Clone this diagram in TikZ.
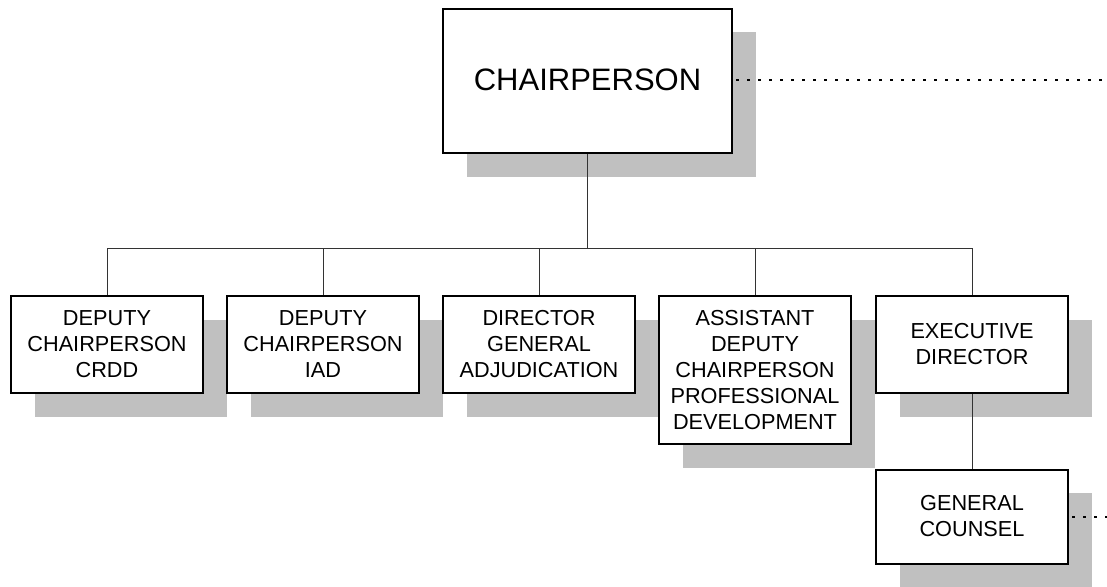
\documentclass[tikz,border=0pt]{standalone}
\usepackage{fontspec}
\setmainfont{Liberation Sans}
\usetikzlibrary{shadows}
\definecolor{shadowgray}{HTML}{C0C0C0}
\definecolor{linegray}{HTML}{333333}
\tikzset{
  orgbox/.style={draw=black, line width=2pt, fill=white, inner sep=0pt,
    minimum width=192pt, minimum height=97pt, align=center,
    font=\fontsize{21.7}{26}\selectfont,
    general shadow={fill=shadowgray, shadow xshift=23.5pt, shadow yshift=-23.5pt}},
  conn/.style={draw=linegray, line width=1pt},
  dotline/.style={draw=black, line width=2pt, dash pattern=on 3pt off 8pt}
}
\begin{document}
\begin{tikzpicture}[x=1pt,y=-1pt]
\useasboundingbox (0,0) rectangle (1107,586);
\node[orgbox, minimum width=289pt, minimum height=144pt, font=\fontsize{31}{36}\selectfont] (chair) at (587.5,81) {\raisebox{3pt}{CHAIRPERSON}};
\node[orgbox] (c1) at (107,344.5) {DEPUTY\\CHAIRPERSON\\CRDD};
\node[orgbox] (c2) at (323,344.5) {DEPUTY\\CHAIRPERSON\\IAD};
\node[orgbox] (c3) at (539,344.5) {DIRECTOR\\GENERAL\\ADJUDICATION};
\node[orgbox, minimum height=148pt] (c4) at (755,370) {ASSISTANT\\DEPUTY\\CHAIRPERSON\\PROFESSIONAL\\DEVELOPMENT};
\node[orgbox] (c5) at (972,344.5) {EXECUTIVE\\DIRECTOR};
\node[orgbox, minimum height=94pt] (gc) at (972,516.5) {GENERAL\\COUNSEL};
\coordinate (bus) at (587.5,248);
\coordinate (dotend1) at (1107,80);
\coordinate (dotend2) at (1107,517);
\draw[conn] (chair.south) -- (bus);
\draw[conn] (c1.north) -- (c1.north |- bus) -- (c5.north |- bus) -- (c5.north);
\draw[conn] (c2.north) -- (c2.north |- bus);
\draw[conn] (c3.north) -- (c3.north |- bus);
\draw[conn] (c4.north) -- (c4.north |- bus);
\draw[conn] (c5.south) -- (gc.north);
\draw[dotline] (chair.east |- dotend1) ++(3,0) -- (dotend1);
\draw[dotline] (gc.east |- dotend2) ++(3,0) -- (dotend2);
\end{tikzpicture}
\end{document}
